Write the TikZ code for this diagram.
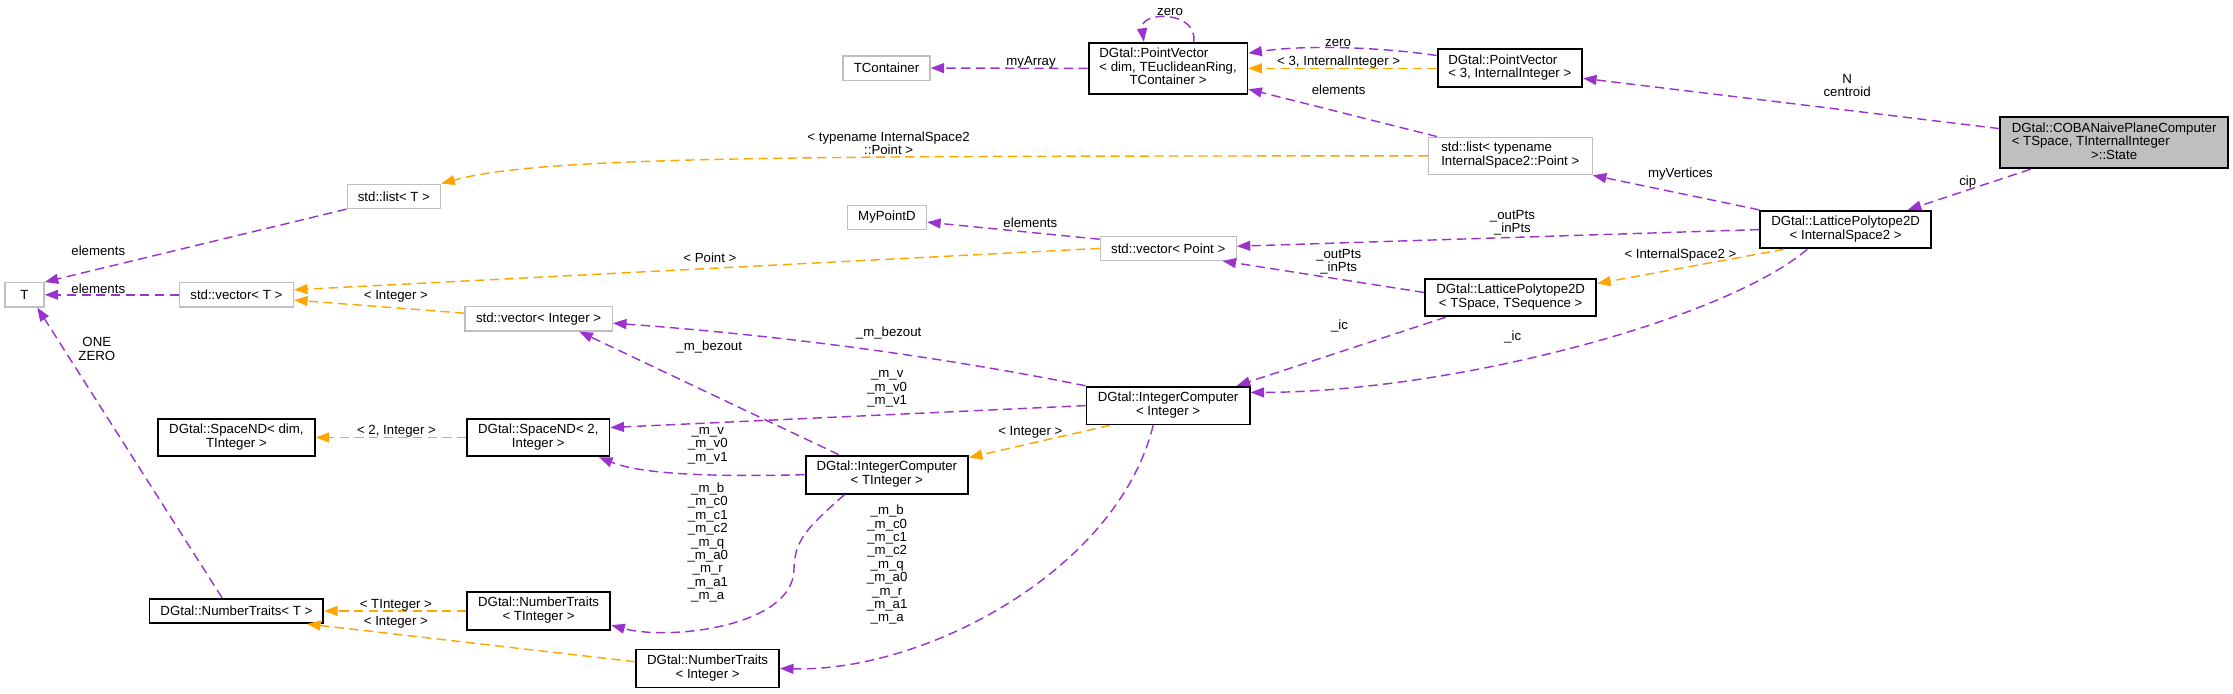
\documentclass[tikz,border=0pt]{standalone}
\usepackage{fontspec}
\setmainfont{Liberation Sans}
\usetikzlibrary{arrows.meta,calc}
\definecolor{purp}{HTML}{9A32CD}
\definecolor{orng}{HTML}{FFA500}
\definecolor{gbord}{HTML}{BFBFBF}
\newcommand{\ltwo}[2]{\begin{tabular}{@{}l@{}}#1\\\multicolumn{1}{@{}c@{}}{#2}\end{tabular}}
\newcommand{\lthree}[3]{\begin{tabular}{@{}l@{}}#1\\#2\\\multicolumn{1}{@{}c@{}}{#3}\end{tabular}}
\tikzset{
  sz/.style 2 args={minimum width=#1pt, minimum height=#2pt},
  gbox/.style={draw=gbord, line width=0.9pt, fill=white, inner sep=0pt,
    font=\fontsize{9.3}{9.5}\selectfont},
  bbox/.style={draw=black, line width=1.3pt, fill=white, inner sep=0pt,
    font=\fontsize{9.3}{9.5}\selectfont},
  cbox/.style={bbox, fill=gbord},
  lbl/.style={inner sep=0pt, align=center, font=\fontsize{9.3}{9.4}\selectfont},
  pe/.style={draw=purp, line width=1pt, dash pattern=on 6.5pt off 3.8pt,
    -{Triangle[length=9.5pt,width=7pt,fill=purp]}},
  oe/.style={draw=orng, line width=1pt, dash pattern=on 6.5pt off 3.8pt,
    -{Triangle[length=9.5pt,width=7pt,fill=orng]}},
}
\begin{document}
\begin{tikzpicture}[x=1pt,y=-1pt]
\useasboundingbox (0,0) rectangle (1568,487);
% nodes
\node[gbox, sz={27.5}{17}] (T) at (17.2,207) {T};
\node[gbox, sz={65.6}{17}] (listT) at (276.6,137.9) {std::list< T >};
\node[gbox, sz={80}{17}] (vecT) at (166,207) {std::vector< T >};
\node[gbox, sz={103.5}{17}] (vecInt) at (378.2,223.9) {std::vector< Integer >};
\node[gbox, sz={61}{17}] (TCont) at (622.5,47.8) {TContainer};
\node[bbox, sz={111.5}{36}] (PVdim) at (820.2,48) {\lthree{DGtal::PointVector}{< dim, TEuclideanRing,}{TContainer >}};
\node[bbox, sz={101.5}{26.7}] (PV3) at (1060.2,48) {\ltwo{DGtal::PointVector}{< 3, InternalInteger >}};
\node[gbox, sz={115}{26.3}] (listTyp) at (1060.5,109.5) {\ltwo{std::list< typename}{InternalSpace2::Point >}};
\node[cbox, sz={160}{35.8}] (COBA) at (1484.5,100.3) {\lthree{DGtal::COBANaivePlaneComputer}{< TSpace, TInternalInteger}{>::State}};
\node[bbox, sz={120}{26.4}] (LP2) at (1296,161.2) {\ltwo{DGtal::LatticePolytope2D}{< InternalSpace2 >}};
\node[gbox, sz={55.6}{16.6}] (MyPointD) at (622.8,152.7) {MyPointD};
\node[gbox, sz={95.4}{16.8}] (vecPoint) at (820.3,174.4) {std::vector< Point >};
\node[bbox, sz={120.1}{26.3}] (LPT) at (1060.8,208.9) {\ltwo{DGtal::LatticePolytope2D}{< TSpace, TSequence >}};
\node[bbox, sz={114.5}{26.5}] (ICInt) at (820.2,284.8) {\ltwo{DGtal::IntegerComputer}{< Integer >}};
\node[bbox, sz={114}{26.7}] (ICT) at (622.7,333.3) {\ltwo{DGtal::IntegerComputer}{< TInteger >}};
\node[bbox, sz={100}{26.4}] (Sp2) at (378,307.2) {\ltwo{DGtal::SpaceND< 2,}{Integer >}};
\node[bbox, sz={110}{26.4}] (Spdim) at (166,307.2) {\ltwo{DGtal::SpaceND< dim,}{TInteger >}};
\node[bbox, sz={122}{17}] (NTT) at (166,429) {DGtal::NumberTraits< T >};
\node[bbox, sz={100.8}{26.7}] (NTTI) at (378.2,429) {\ltwo{DGtal::NumberTraits}{< TInteger >}};
\node[bbox, sz={100.3}{26.7}] (NTI) at (496.9,469.4) {\ltwo{DGtal::NumberTraits}{< Integer >}};

% purple edges
\draw[pe] (listT.south west) -- (T.north east);
\draw[pe] (vecT.west) -- (T.east);
\draw[pe] (PVdim.west) -- (TCont.east);
\draw[pe] ($(PVdim.north)+(18,0)$) .. controls +(3,-22) and +(-3,-22) .. ($(PVdim.north)+(-17,0)$);
\draw[pe] ($(PV3.north west)+(0,5)$) .. controls +(-40,-6) and +(40,-6) .. ($(PVdim.north east)+(0,8)$);
\draw[pe] ($(listTyp.north west)+(6.5,0)$) -- ($(PVdim.south east)+(0,-4)$);
\draw[pe] ($(COBA.west)+(0,-10)$) -- ($(PV3.east)+(0,7)$);
\draw[pe] ($(COBA.south west)+(22,0)$) -- ($(LP2.north east)+(-17,0)$);
\draw[pe] (LP2.north west) -- (listTyp.south east);
\draw[pe] (LP2.west) -- ($(vecPoint.east)+(0,-1.5)$);
\draw[pe] ($(vecPoint.west)+(0,-6.4)$) -- ($(MyPointD.east)+(0,3.3)$);
\draw[pe] ($(LPT.west)+(0,-3.5)$) -- ($(vecPoint.south east)+(-10,0)$);
\draw[pe] ($(LP2.south west)+(33.7,0)$) .. controls (1210,225) and (1020,275) .. ($(ICInt.north east)+(0,4.7)$);
\draw[pe] ($(LPT.south west)+(15.3,0)$) -- ($(ICInt.north east)+(-9.7,0)$);
\draw[pe] (ICInt.north west) .. controls +(-110,-22) and +(110,8) .. ($(vecInt.east)+(0,3)$);
\draw[pe] ($(ICT.north west)+(24,0)$) -- ($(vecInt.south east)+(-23.6,0)$);
\draw[pe] (ICInt.west) -- ($(Sp2.east)+(0,-7)$);
\draw[pe] (ICT.west) .. controls (500,335) and (450,333) .. ($(Sp2.south east)+(-8,0)$);
\draw[pe] ($(ICT.south west)+(28,0)$) .. controls (565,372) and (558,380) .. (557.5,400)
   .. controls (557,440) and (470,450) .. ($(NTTI.east)+(0,10)$);
\draw[pe] ($(ICInt.south west)+(47.4,0)$) .. controls (785,400) and (650,472) .. (NTI.east);
\draw[pe] ($(NTT.north)+(-10,0)$) -- ($(T.south)+(9,0)$);

% orange edges
\draw[oe] (PV3.west) -- (PVdim.east);
\draw[oe] (listTyp.west) .. controls (560,109.5) and (380,109.5) .. (listT.north east);
\draw[oe] (vecPoint.west) -- ($(vecT.east)+(0,-3.5)$);
\draw[oe] ($(LP2.south west)+(17.5,0)$) -- ($(LPT.north east)+(0,4)$);
\draw[oe] ($(vecInt.west)+(0,-4)$) -- ($(vecT.east)+(0,3.7)$);
\draw[oe] (Sp2.west) -- (Spdim.east);
\draw[oe] ($(ICInt.south west)+(17,0)$) -- ($(ICT.north east)+(0,2)$);
\draw[oe] (NTTI.west) -- (NTT.east);
\draw[oe] ($(NTI.west)+(0,-4.7)$) -- ($(NTT.south east)+(-12,0)$);

% labels
\node[lbl] (la) at (69,176) {elements};
\node[lbl] (lb) at (69,203) {elements};
\node[lbl] (lc) at (724,43.5) {myArray};
\node[lbl] (ld) at (821.6,8.4) {zero};
\node[lbl] (le) at (939.6,30) {zero};
\node[lbl] (lf) at (940,43.5) {< 3, InternalInteger >};
\node[lbl] (lg) at (940,63) {elements};
\node[lbl] (lh) at (624,100.7) {< typename InternalSpace2\\::Point >};
\node[lbl] (li) at (1297,60) {N\\centroid};
\node[lbl] (lj) at (1381.7,127.6) {cip};
\node[lbl] (lk) at (1180,122.4) {myVertices};
\node[lbl] (ll) at (1062,156.6) {\_outPts\\\_inPts};
\node[lbl] (lm) at (723.5,156.4) {elements};
\node[lbl] (ln) at (498.5,181) {< Point >};
\node[lbl] (lo) at (940,184) {\_outPts\\\_inPts};
\node[lbl] (lp) at (1180,179) {< InternalSpace2 >};
\node[lbl] (lq) at (1062.2,236.4) {\_ic};
\node[lbl] (lr) at (940.6,229) {\_ic};
\node[lbl] (ls) at (624,233.6) {\_m\_bezout};
\node[lbl] (lt) at (498,244) {\_m\_bezout};
\node[lbl] (lu) at (623,273) {\_m\_v\\\_m\_v0\\\_m\_v1};
\node[lbl] (lv) at (497,313) {\_m\_v\\\_m\_v0\\\_m\_v1};
\node[lbl] (lw) at (497,381) {\_m\_b\\\_m\_c0\\\_m\_c1\\\_m\_c2\\\_m\_q\\\_m\_a0\\\_m\_r\\\_m\_a1\\\_m\_a};
\node[lbl] (lx) at (623,396.6) {\_m\_b\\\_m\_c0\\\_m\_c1\\\_m\_c2\\\_m\_q\\\_m\_a0\\\_m\_r\\\_m\_a1\\\_m\_a};
\node[lbl] (ly) at (68,245) {ONE\\ZERO};
\node[lbl] (lz1) at (278,208.3) {< Integer >};
\node[lbl] (lz2) at (278.4,302.7) {< 2, Integer >};
\node[lbl] (lz3) at (723.5,303.8) {< Integer >};
\node[lbl] (lz4) at (278,424.9) {< TInteger >};
\node[lbl] (lz5) at (278,437.3) {< Integer >};
\end{tikzpicture}
\end{document}
